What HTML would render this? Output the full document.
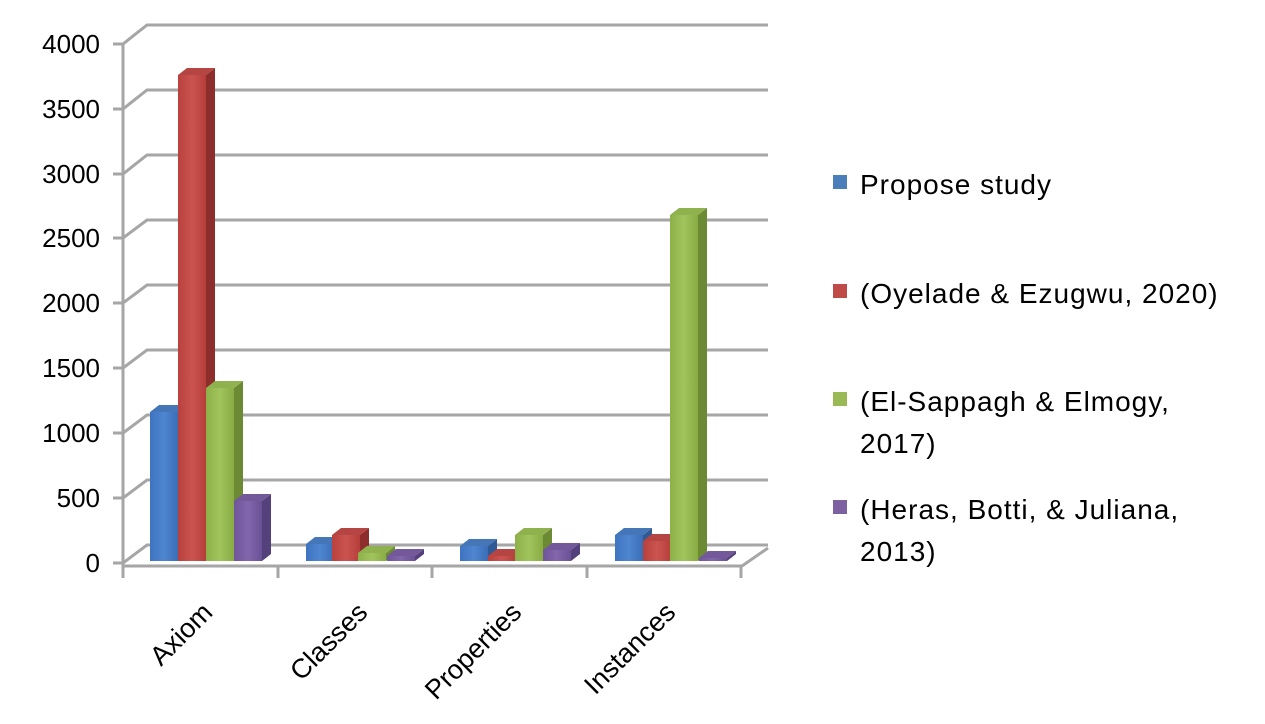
<!DOCTYPE html><html><head><style>body{margin:0;background:#fff}svg{display:block}text{font-family:"Liberation Sans","DejaVu Sans",sans-serif;fill:#000}</style></head><body>
<svg width="1265" height="724" viewBox="0 0 1265 724">
<defs>
<linearGradient id="b" x1="0" x2="1"><stop offset="0" stop-color="#3d73c0"/><stop offset=".5" stop-color="#4f86d0"/><stop offset="1" stop-color="#3a6db6"/></linearGradient>
<linearGradient id="r" x1="0" x2="1"><stop offset="0" stop-color="#b8403d"/><stop offset=".5" stop-color="#cc5450"/><stop offset="1" stop-color="#b53e3b"/></linearGradient>
<linearGradient id="g" x1="0" x2="1"><stop offset="0" stop-color="#8db048"/><stop offset=".5" stop-color="#a2c45c"/><stop offset="1" stop-color="#88ab44"/></linearGradient>
<linearGradient id="p" x1="0" x2="1"><stop offset="0" stop-color="#6f5599"/><stop offset=".5" stop-color="#8366ad"/><stop offset="1" stop-color="#6a5094"/></linearGradient>
</defs>
<g stroke="#a6a6a6" stroke-width="3" fill="none">
<polyline points="123,44 147,25 768,25"/>
<polyline points="123,109 147,90 768,90"/>
<polyline points="123,174 147,155 768,155"/>
<polyline points="123,238 147,220 768,220"/>
<polyline points="123,303 147,285 768,285"/>
<polyline points="123,368 147,350 768,350"/>
<polyline points="123,433 147,415 768,415"/>
<polyline points="123,498 147,480 768,480"/>
<polyline points="123,563 147,545 768,545"/>
<line x1="123" y1="44" x2="123" y2="578"/>
<polyline points="123,566 742,566 768,548"/>
<line x1="113" y1="44" x2="123" y2="44"/><line x1="113" y1="109" x2="123" y2="109"/><line x1="113" y1="174" x2="123" y2="174"/><line x1="113" y1="238" x2="123" y2="238"/><line x1="113" y1="303" x2="123" y2="303"/><line x1="113" y1="368" x2="123" y2="368"/><line x1="113" y1="433" x2="123" y2="433"/><line x1="113" y1="498" x2="123" y2="498"/><line x1="113" y1="563" x2="123" y2="563"/>
<line x1="278" y1="566" x2="278" y2="578"/><line x1="432" y1="566" x2="432" y2="578"/><line x1="587" y1="566" x2="587" y2="578"/><line x1="741" y1="566" x2="741" y2="578"/>
</g>
<g>
<polygon points="178,412 187,405 187,554 178,561" fill="#2f5a94"/><polygon points="150,412 159,405 187,405 178,412" fill="#4577b8"/><rect x="150" y="412" width="28" height="149" fill="url(#b)"/>
<polygon points="206,75 215,68 215,554 206,561" fill="#8e2e2c"/><polygon points="178,75 187,68 215,68 206,75" fill="#b44542"/><rect x="178" y="75" width="28" height="486" fill="url(#r)"/>
<polygon points="234,388 243,381 243,554 234,561" fill="#6b8a33"/><polygon points="206,388 215,381 243,381 234,388" fill="#8fb14e"/><rect x="206" y="388" width="28" height="173" fill="url(#g)"/>
<polygon points="262,501 271,494 271,554 262,561" fill="#54407a"/><polygon points="234,501 243,494 271,494 262,501" fill="#74599a"/><rect x="234" y="501" width="28" height="60" fill="url(#p)"/>

<polygon points="334,544 343,537 343,554 334,561" fill="#2f5a94"/><polygon points="306,544 315,537 343,537 334,544" fill="#4577b8"/><rect x="306" y="544" width="28" height="17" fill="url(#b)"/>
<polygon points="360,535 369,528 369,554 360,561" fill="#8e2e2c"/><polygon points="332,535 341,528 369,528 360,535" fill="#b44542"/><rect x="332" y="535" width="28" height="26" fill="url(#r)"/>
<polygon points="386,553 395,546 395,554 386,561" fill="#6b8a33"/><polygon points="358,553 367,546 395,546 386,553" fill="#8fb14e"/><rect x="358" y="553" width="28" height="8" fill="url(#g)"/>
<polygon points="415,556 424,549 424,554 415,561" fill="#54407a"/><polygon points="387,556 396,549 424,549 415,556" fill="#74599a"/><rect x="387" y="556" width="28" height="5" fill="url(#p)"/>

<polygon points="488,546 497,539 497,554 488,561" fill="#2f5a94"/><polygon points="460,546 469,539 497,539 488,546" fill="#4577b8"/><rect x="460" y="546" width="28" height="15" fill="url(#b)"/>
<polygon points="516,556 525,549 525,554 516,561" fill="#8e2e2c"/><polygon points="488,556 497,549 525,549 516,556" fill="#b44542"/><rect x="488" y="556" width="28" height="5" fill="url(#r)"/>
<polygon points="543,535 552,528 552,554 543,561" fill="#6b8a33"/><polygon points="515,535 524,528 552,528 543,535" fill="#8fb14e"/><rect x="515" y="535" width="28" height="26" fill="url(#g)"/>
<polygon points="571,550 580,543 580,554 571,561" fill="#54407a"/><polygon points="543,550 552,543 580,543 571,550" fill="#74599a"/><rect x="543" y="550" width="28" height="11" fill="url(#p)"/>

<polygon points="643,535 652,528 652,554 643,561" fill="#2f5a94"/><polygon points="615,535 624,528 652,528 643,535" fill="#4577b8"/><rect x="615" y="535" width="28" height="26" fill="url(#b)"/>
<polygon points="671,541 680,534 680,554 671,561" fill="#8e2e2c"/><polygon points="643,541 652,534 680,534 671,541" fill="#b44542"/><rect x="643" y="541" width="28" height="20" fill="url(#r)"/>
<polygon points="698,215 707,208 707,554 698,561" fill="#6b8a33"/><polygon points="670,215 679,208 707,208 698,215" fill="#8fb14e"/><rect x="670" y="215" width="28" height="346" fill="url(#g)"/>
<polygon points="727,558 736,551 736,554 727,561" fill="#54407a"/><polygon points="699,558 708,551 736,551 727,558" fill="#74599a"/><rect x="699" y="558" width="28" height="3" fill="url(#p)"/>
</g>
<g font-size="26" text-anchor="end">
<text x="100" y="53">4000</text><text x="100" y="118">3500</text><text x="100" y="183">3000</text><text x="100" y="247">2500</text><text x="100" y="312">2000</text><text x="100" y="377">1500</text><text x="100" y="442">1000</text><text x="100" y="507">500</text><text x="100" y="572">0</text>
</g>
<g font-size="27" text-anchor="end">
<text transform="translate(214,614) rotate(-45)">Axiom</text>
<text transform="translate(369,614) rotate(-45)">Classes</text>
<text transform="translate(523,614) rotate(-45)">Properties</text>
<text transform="translate(677,614) rotate(-45)">Instances</text>
</g>
<g font-size="28" letter-spacing="1">
<rect x="833" y="175" width="14" height="14" fill="#4a7ebb"/><text x="860" y="194">Propose study</text>
<rect x="833" y="284" width="14" height="14" fill="#be4b48"/><text x="860" y="303">(Oyelade &amp; Ezugwu, 2020)</text>
<rect x="833" y="392" width="14" height="14" fill="#98b954"/><text x="860" y="411">(El-Sappagh &amp; Elmogy,</text><text x="860" y="453">2017)</text>
<rect x="833" y="500" width="14" height="14" fill="#7d60a0"/><text x="860" y="519">(Heras, Botti, &amp; Juliana,</text><text x="860" y="561">2013)</text>
</g>
</svg>
</body></html>
